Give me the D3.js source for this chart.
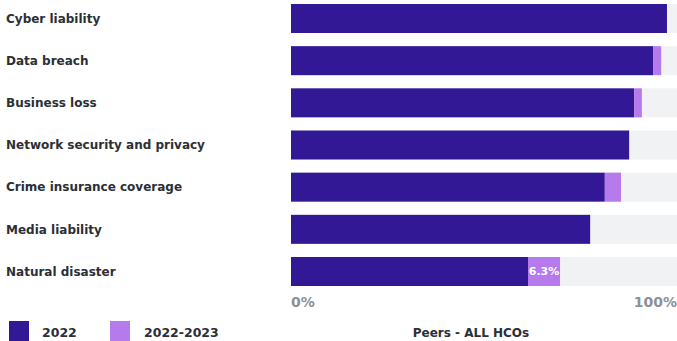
<!DOCTYPE html>
<html>
<head>
<meta charset="utf-8">
<script src="https://cdn.jsdelivr.net/npm/d3@7"></script>
<style>
  html, body { margin: 0; padding: 0; background: #ffffff; }
  svg { display: block; }
  text { font-family: "DejaVu Sans", "Open Sans", sans-serif; font-weight: 700; }
</style>
</head>
<body>
<svg id="chart" width="677" height="341"></svg>
<script>
const categories = [
  "Cyber liability",
  "Data breach",
  "Business loss",
  "Network security and privacy",
  "Crime insurance coverage",
  "Media liability",
  "Natural disaster"
];
const values2022 = [97.4, 93.8, 88.9, 87.6, 81.3, 77.5, 61.4];
const valuesChange = [0, 2.1, 2.0, 0, 4.2, 0, 8.3];
const changeLabels = ["", "", "", "", "", "", "6.3%"];
const xTickLabels = ["0%", "100%"];
const seriesNames = ["2022", "2022-2023"];
const footerLabel = "Peers - ALL HCOs";

const colors = { dark: "#331896", light: "#b77aec", track: "#f1f2f4", text: "#2b2f36", axis: "#8b9097" };

const svg = d3.select("#chart");
const x = d3.scaleLinear().domain([0, 100]).range([291, 677]);
const y = d3.scaleBand().domain(categories).range([4, 286]).paddingInner(0.312).paddingOuter(0);

const rows = categories.map((c, i) => ({ c, v: values2022[i], d: valuesChange[i], lab: changeLabels[i] }));

const g = svg.append("g");
g.selectAll("rect.track").data(rows).join("rect")
  .attr("class", "track")
  .attr("x", x(0)).attr("width", x(100) - x(0))
  .attr("y", d => y(d.c)).attr("height", y.bandwidth())
  .attr("fill", colors.track);
g.selectAll("rect.base").data(rows).join("rect")
  .attr("class", "base")
  .attr("x", x(0)).attr("width", d => x(d.v) - x(0))
  .attr("y", d => y(d.c)).attr("height", y.bandwidth())
  .attr("fill", colors.dark);
g.selectAll("rect.chg").data(rows.filter(d => d.d > 0)).join("rect")
  .attr("class", "chg")
  .attr("x", d => x(d.v)).attr("width", d => x(d.v + d.d) - x(d.v))
  .attr("y", d => y(d.c)).attr("height", y.bandwidth())
  .attr("fill", colors.light);
g.selectAll("text.chglab").data(rows.filter(d => d.lab)).join("text")
  .attr("class", "chglab")
  .attr("x", d => (x(d.v) + x(d.v + d.d)) / 2)
  .attr("y", d => y(d.c) + y.bandwidth() / 2)
  .attr("dy", "0.36em")
  .attr("text-anchor", "middle")
  .attr("fill", "#ffffff").attr("font-size", 11)
  .text(d => d.lab);

g.selectAll("text.cat").data(rows).join("text")
  .attr("class", "cat")
  .attr("x", 6)
  .attr("y", d => y(d.c) + y.bandwidth() / 2)
  .attr("dy", "0.36em")
  .attr("fill", colors.text).attr("font-size", 12)
  .text(d => d.c);

const ticks = [0, 100];
g.selectAll("text.tick").data(ticks).join("text")
  .attr("class", "tick")
  .attr("x", d => x(d))
  .attr("y", 307)
  .attr("text-anchor", (d, i) => i === 0 ? "start" : "end")
  .attr("fill", colors.axis).attr("font-size", 14)
  .text((d, i) => xTickLabels[i]);

const legend = [
  { name: seriesNames[0], color: colors.dark, x: 9, tx: 42 },
  { name: seriesNames[1], color: colors.light, x: 110, tx: 144 }
];
const lg = svg.append("g");
lg.selectAll("rect").data(legend).join("rect")
  .attr("x", d => d.x).attr("y", 321).attr("width", 20).attr("height", 20)
  .attr("fill", d => d.color);
lg.selectAll("text").data(legend).join("text")
  .attr("x", d => d.tx).attr("y", 337)
  .attr("fill", colors.text).attr("font-size", 12.5)
  .text(d => d.name);

svg.append("text")
  .attr("x", 471).attr("y", 337)
  .attr("text-anchor", "middle")
  .attr("fill", colors.text).attr("font-size", 12)
  .text(footerLabel);
</script>
</body>
</html>
